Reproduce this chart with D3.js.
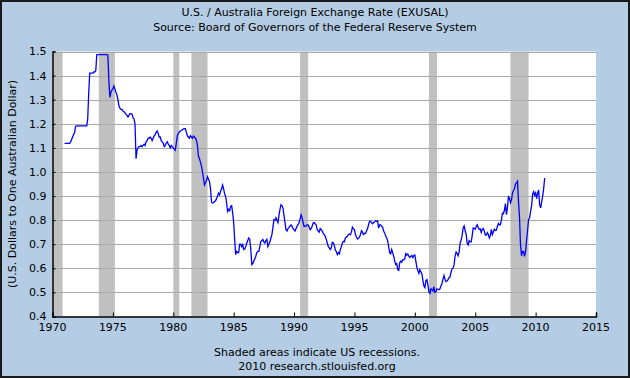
<!DOCTYPE html>
<html>
<head>
<meta charset="utf-8">
<script src="https://cdn.jsdelivr.net/npm/d3@7/dist/d3.min.js"></script>
<style>
  body { margin: 0; background: #ffffff; }
  text { font-family: "DejaVu Sans", Verdana, sans-serif; fill: #000000; }
</style>
</head>
<body>
<svg id="exusal-chart"></svg>
<script>
/*--------------------------------------------------------------------------------
----- DATA (monthly U.S. dollars per Australian dollar)
--------------------------------------------------------------------------------*/

// First month of the series is January 1971
const first_year = 1971;

// Monthly values, Jan 1971 -> Dec 1979
const rates_1970s = [
    1.119, 1.119, 1.119, 1.119, 1.119, 1.119, 1.125, 1.135, 1.145, 1.155, 1.165, 1.190,
    1.191, 1.191, 1.191, 1.191, 1.191, 1.191, 1.191, 1.191, 1.191, 1.191, 1.191, 1.220,
    1.330, 1.410, 1.410, 1.410, 1.410, 1.415, 1.415, 1.420, 1.487, 1.487, 1.487, 1.487,
    1.487, 1.487, 1.487, 1.487, 1.487, 1.487, 1.487, 1.485, 1.380, 1.310, 1.330, 1.340,
    1.345, 1.357, 1.345, 1.331, 1.320, 1.300, 1.275, 1.265, 1.260, 1.260, 1.253, 1.250,
    1.245, 1.240, 1.235, 1.228, 1.235, 1.242, 1.242, 1.240, 1.225, 1.220, 1.200, 1.055,
    1.090, 1.100, 1.105, 1.105, 1.110, 1.105, 1.110, 1.115, 1.110, 1.125, 1.130, 1.140,
    1.140, 1.145, 1.140, 1.130, 1.140, 1.150, 1.155, 1.165, 1.170, 1.160, 1.145, 1.145,
    1.130, 1.125, 1.120, 1.105, 1.110, 1.120, 1.125, 1.115, 1.110, 1.100, 1.110, 1.105
];

// Monthly values, Jan 1980 -> Dec 1989
const rates_1980s = [
    1.100, 1.095, 1.090, 1.120, 1.150, 1.160, 1.165, 1.170, 1.172, 1.175, 1.178, 1.180,
    1.180, 1.165, 1.150, 1.146, 1.140, 1.150, 1.145, 1.140, 1.149, 1.145, 1.140, 1.132,
    1.110, 1.065, 1.056, 1.040, 1.025, 1.000, 0.975, 0.946, 0.955, 0.965, 0.980, 0.970,
    0.960, 0.930, 0.875, 0.871, 0.872, 0.877, 0.880, 0.890, 0.900, 0.912, 0.905, 0.920,
    0.930, 0.946, 0.930, 0.910, 0.898, 0.870, 0.836, 0.845, 0.840, 0.857, 0.860, 0.830,
    0.790, 0.720, 0.657, 0.670, 0.665, 0.665, 0.700, 0.700, 0.690, 0.698, 0.678, 0.680,
    0.690, 0.705, 0.715, 0.726, 0.720, 0.680, 0.616, 0.620, 0.630, 0.640, 0.650, 0.665,
    0.670, 0.670, 0.690, 0.712, 0.715, 0.720, 0.710, 0.705, 0.715, 0.720, 0.690, 0.700,
    0.710, 0.726, 0.740, 0.770, 0.802, 0.800, 0.810, 0.800, 0.790, 0.820, 0.845, 0.864,
    0.860, 0.850, 0.820, 0.790, 0.760, 0.755, 0.765, 0.770, 0.776, 0.780, 0.774, 0.765
];

// Monthly values, Jan 1990 -> Dec 1999
const rates_1990s = [
    0.760, 0.755, 0.765, 0.775, 0.781, 0.790, 0.805, 0.822, 0.810, 0.790, 0.774, 0.775,
    0.775, 0.781, 0.780, 0.770, 0.760, 0.765, 0.775, 0.788, 0.790, 0.785, 0.780, 0.760,
    0.755, 0.750, 0.765, 0.760, 0.755, 0.745, 0.740, 0.733, 0.720, 0.705, 0.691, 0.685,
    0.678, 0.685, 0.708, 0.705, 0.695, 0.675, 0.670, 0.657, 0.665, 0.660, 0.678, 0.690,
    0.705, 0.712, 0.710, 0.726, 0.730, 0.733, 0.740, 0.742, 0.740, 0.750, 0.771, 0.765,
    0.760, 0.740, 0.730, 0.722, 0.725, 0.730, 0.740, 0.756, 0.750, 0.740, 0.745, 0.745,
    0.755, 0.765, 0.780, 0.795, 0.795, 0.790, 0.785, 0.790, 0.792, 0.797, 0.795, 0.797,
    0.767, 0.780, 0.780, 0.775, 0.770, 0.755, 0.747, 0.735, 0.726, 0.715, 0.690, 0.664,
    0.660, 0.678, 0.665, 0.650, 0.630, 0.616, 0.620, 0.595, 0.592, 0.623, 0.630, 0.625,
    0.636, 0.635, 0.640, 0.661, 0.655, 0.660, 0.650, 0.645, 0.650, 0.653, 0.645, 0.653
];

// Monthly values, Jan 2000 -> Oct 2010
const rates_2000s = [
    0.655, 0.630, 0.605, 0.590, 0.579, 0.595, 0.585, 0.578, 0.550, 0.527, 0.520, 0.549,
    0.553, 0.531, 0.502, 0.496, 0.515, 0.511, 0.506, 0.524, 0.500, 0.503, 0.515, 0.513,
    0.511, 0.515, 0.528, 0.537, 0.555, 0.570, 0.554, 0.545, 0.547, 0.553, 0.562, 0.563,
    0.585, 0.598, 0.601, 0.614, 0.651, 0.668, 0.662, 0.652, 0.667, 0.705, 0.716, 0.737,
    0.768, 0.776, 0.756, 0.741, 0.704, 0.697, 0.715, 0.710, 0.710, 0.736, 0.768, 0.765,
    0.762, 0.773, 0.781, 0.770, 0.762, 0.764, 0.749, 0.762, 0.766, 0.755, 0.738, 0.738,
    0.748, 0.741, 0.726, 0.736, 0.762, 0.740, 0.752, 0.762, 0.757, 0.758, 0.774, 0.786,
    0.780, 0.781, 0.800, 0.828, 0.827, 0.841, 0.869, 0.823, 0.850, 0.900, 0.890, 0.872,
    0.883, 0.912, 0.923, 0.930, 0.950, 0.955, 0.962, 0.877, 0.812, 0.697, 0.652, 0.671,
    0.670, 0.650, 0.668, 0.716, 0.757, 0.802, 0.809, 0.836, 0.860, 0.907, 0.918, 0.903,
    0.913, 0.889, 0.912, 0.925, 0.863, 0.851, 0.876, 0.899, 0.931, 0.975
];

// US recessions (first month, last month), as shaded by the source
const recession_starts = ["1969-12", "1973-11", "1980-01", "1981-07", "1990-07", "2001-03", "2007-12"];
const recession_ends   = ["1970-11", "1975-03", "1980-07", "1982-11", "1991-03", "2001-11", "2009-06"];

// Axis ticks
const x_ticks = [1970, 1975, 1980, 1985, 1990, 1995, 2000, 2005, 2010, 2015];
const y_ticks = [0.4, 0.5, 0.6, 0.7, 0.8, 0.9, 1.0, 1.1, 1.2, 1.3, 1.4, 1.5];

// Texts
const title_lines = ["U.S. / Australia Foreign Exchange Rate (EXUSAL)", "Source: Board of Governors of the Federal Reserve System"];
const y_label = "(U.S. Dollars to One Australian Dollar)";
const footer_lines = ["Shaded areas indicate US recessions.", "2010 research.stlouisfed.org"];

/*--------------------------------------------------------------------------------
----- CHART
--------------------------------------------------------------------------------*/

// Join the decades into one monthly series with a fractional year as x
const all_rates = rates_1970s.concat(rates_1980s, rates_1990s, rates_2000s);
const series = all_rates.map((v, i) => ({ year: first_year + i / 12, value: v }));

// Convert "YYYY-MM" into a fractional year
function month_to_year(s) {
    const parts = s.split("-");
    return +parts[0] + (+parts[1] - 1) / 12;
}

// Dimensions of the picture and of the plot area
const chart_width = 630, chart_height = 378;
const plot_left = 52.5, plot_right = 596, plot_top = 51.5, plot_bottom = 316.5;

// Scales
const x_scale = d3.scaleLinear()
    .domain([1970, 2015])
    .range([plot_left, plot_right]);
const y_scale = d3.scaleLinear()
    .domain([0.4, 1.5])
    .range([plot_bottom, plot_top]);

// Chart container
const svg = d3.select("#exusal-chart")
    .attr("width", chart_width)
    .attr("height", chart_height);

// Light blue background with a dark frame
svg.append("rect")
    .attr("x", 1)
    .attr("y", 1)
    .attr("width", chart_width - 2)
    .attr("height", chart_height - 2)
    .attr("fill", "#b4cde4")
    .attr("stroke", "#1a1a1a")
    .attr("stroke-width", 2);

// White plot area
svg.append("rect")
    .attr("x", plot_left)
    .attr("y", plot_top)
    .attr("width", plot_right - plot_left)
    .attr("height", plot_bottom - plot_top)
    .attr("fill", "#ffffff");

// Clip path so the 1969 recession does not spill over the left axis
svg.append("clipPath")
    .attr("id", "plot-clip")
    .append("rect")
    .attr("x", plot_left + 0.5)
    .attr("y", plot_top)
    .attr("width", plot_right - plot_left - 0.5)
    .attr("height", plot_bottom - plot_top);

// Recession shading
svg.append("g")
    .attr("clip-path", "url(#plot-clip)")
    .selectAll("rect")
    .data(recession_starts.map((s, i) => ({ start: month_to_year(s), end: month_to_year(recession_ends[i]) })))
    .enter()
    .append("rect")
    .attr("x", d => x_scale(d.start))
    .attr("y", plot_top)
    .attr("width", d => x_scale(d.end) - x_scale(d.start))
    .attr("height", plot_bottom - plot_top)
    .attr("fill", "#c0c0c0");

// Horizontal grid lines
svg.append("g")
    .selectAll("line")
    .data(y_ticks.slice(1))
    .enter()
    .append("line")
    .attr("x1", plot_left)
    .attr("x2", plot_right)
    .attr("y1", d => Math.round(y_scale(d)) + 0.5)
    .attr("y2", d => Math.round(y_scale(d)) + 0.5)
    .attr("stroke", "#a9a9a9")
    .attr("stroke-width", 1);

// The exchange rate line
const rate_line = d3.line()
    .x(d => x_scale(d.year))
    .y(d => y_scale(d.value));

svg.append("path")
    .datum(series)
    .attr("d", rate_line)
    .attr("fill", "none")
    .attr("stroke", "#0000ff")
    .attr("stroke-width", 1.3);

// Left axis (ticks pointing into the plot)
const y_axis = d3.axisRight(y_scale)
    .tickValues(y_ticks)
    .tickSize(3)
    .tickFormat("");
svg.append("g")
    .attr("transform", `translate(${plot_left}, 0)`)
    .call(y_axis)
    .call(g => g.select(".domain").attr("stroke", "#000").attr("stroke-width", 1.5));

// Left axis labels
svg.append("g")
    .selectAll("text")
    .data(y_ticks)
    .enter()
    .append("text")
    .attr("x", plot_left - 6)
    .attr("y", d => y_scale(d))
    .attr("dy", "0.36em")
    .attr("text-anchor", "end")
    .style("font-size", "11px")
    .text(d => d.toFixed(1));

// Bottom axis (ticks pointing up into the plot)
const x_axis = d3.axisTop(x_scale)
    .tickValues(x_ticks)
    .tickSize(4)
    .tickFormat("");
svg.append("g")
    .attr("transform", `translate(0, ${plot_bottom})`)
    .call(x_axis)
    .call(g => g.select(".domain").attr("stroke", "#000").attr("stroke-width", 1.5));

// Bottom axis labels
svg.append("g")
    .selectAll("text")
    .data(x_ticks)
    .enter()
    .append("text")
    .attr("x", d => x_scale(d))
    .attr("y", 331)
    .attr("text-anchor", "middle")
    .style("font-size", "11px")
    .text(d => d);

// Titles
svg.append("g")
    .selectAll("text")
    .data(title_lines)
    .enter()
    .append("text")
    .attr("x", chart_width / 2)
    .attr("y", (d, i) => 16 + i * 15)
    .attr("text-anchor", "middle")
    .style("font-size", "11px")
    .text(d => d);

// Y axis title
svg.append("text")
    .attr("transform", `translate(16, ${(plot_top + plot_bottom) / 2}) rotate(-90)`)
    .attr("text-anchor", "middle")
    .style("font-size", "11px")
    .text(y_label);

// Footer
svg.append("g")
    .selectAll("text")
    .data(footer_lines)
    .enter()
    .append("text")
    .attr("x", chart_width / 2 + 2)
    .attr("y", (d, i) => 356 + i * 14)
    .attr("text-anchor", "middle")
    .style("font-size", "11px")
    .text(d => d);
</script>
</body>
</html>
